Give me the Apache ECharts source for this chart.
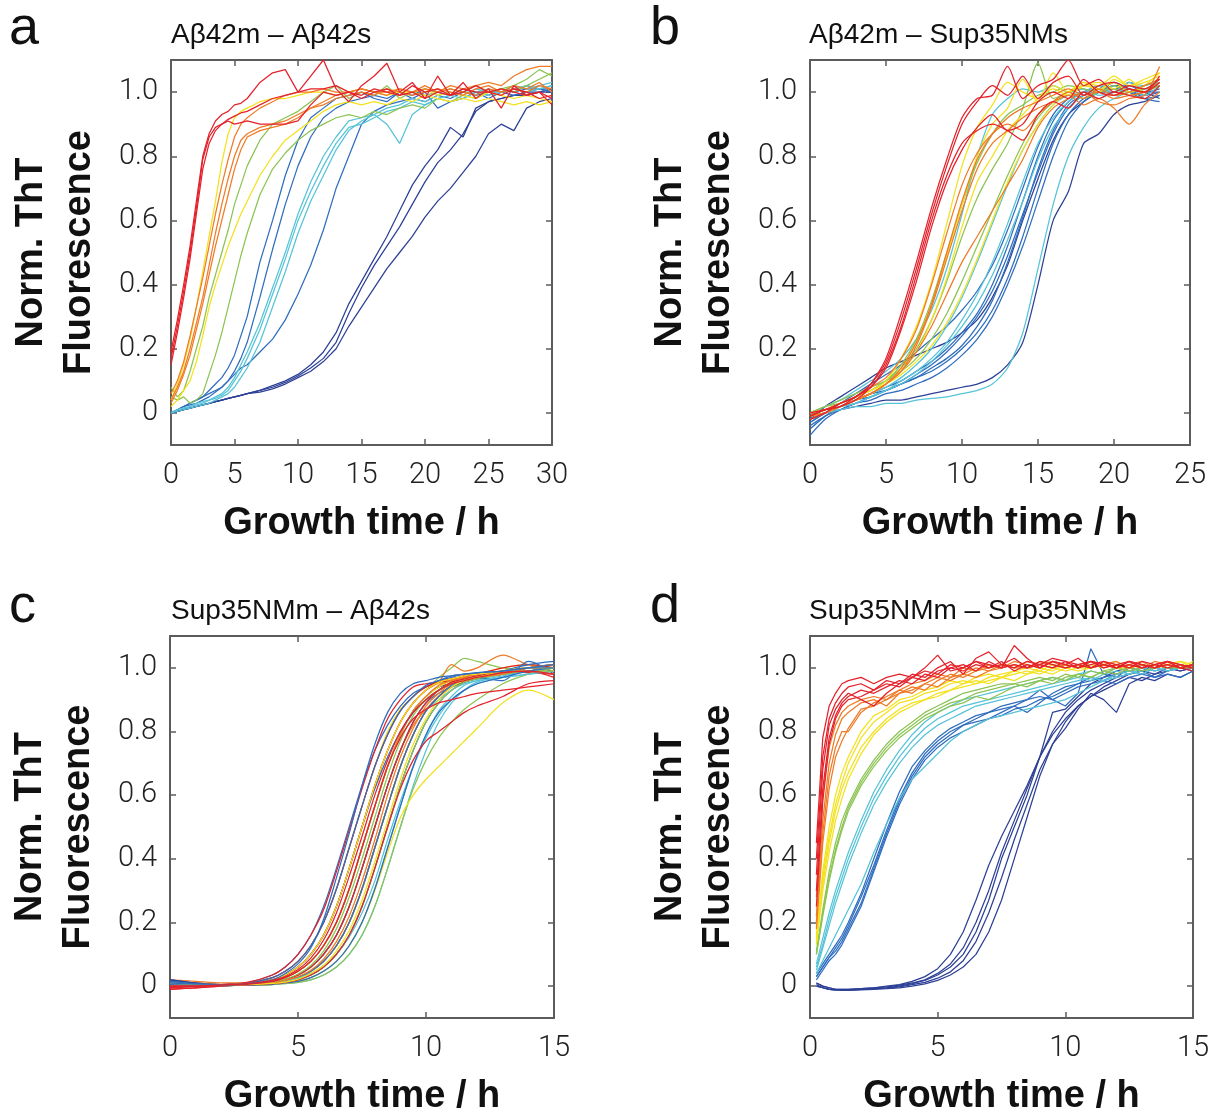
<!DOCTYPE html>
<html><head><meta charset="utf-8">
<script src="https://cdn.jsdelivr.net/npm/echarts@6/dist/echarts.min.js"></script>
<style>html,body{margin:0;padding:0;background:#fff}#c{width:1221px;height:1117px}</style>
</head><body><div id="c"></div>
<script>
// ---------- tick labels ----------
const yTicks = [0, 0.2, 0.4, 0.6, 0.8, 1.0];
const titles = ['Aβ42m – Aβ42s', 'Aβ42m – Sup35NMs', 'Sup35NMm – Aβ42s', 'Sup35NMm – Sup35NMs'];
const letters = ['a', 'b', 'c', 'd'];
const xMaxes = [30, 25, 15, 15];

// ---------- panel a ----------
const timeA = [0,0.5,1,1.5,2,2.5,3,3.5,4,4.5,5,5.5,6,7,8,9,10,11,12,13,14,15,16,17,18,19,20,21,22,23,24,25,26,27,28,29,30];
const aRed = [
 [0.17,0.27,0.38,0.5,0.64,0.79,0.86,0.89,0.9,0.91,0.9,0.905,0.91,0.9,0.9,0.9,0.91,0.96,1.0,0.99,1.0,0.98,1.0,1.01,0.99,1.0,0.98,1.0,0.99,1.01,1.0,1.0,1.01,1.0,0.99,1.0,0.98],
 [0.19,0.29,0.4,0.52,0.66,0.8,0.87,0.91,0.93,0.94,0.96,0.965,0.98,1.03,1.06,1.07,1.0,1.05,1.1,1.01,0.97,1.02,1.05,1.09,1.0,1.03,0.98,1.05,0.99,1.03,0.98,1.01,0.95,1.02,0.99,1.0,0.96],
 [0.15,0.25,0.36,0.48,0.62,0.76,0.84,0.88,0.9,0.915,0.925,0.935,0.94,0.96,0.98,0.99,1.0,1.01,1.01,1.02,1.0,0.99,1.01,1.0,0.99,1.02,1.0,1.01,0.99,1.0,1.02,1.0,0.99,1.01,1.0,0.98,0.99]
];
const aOrange = [
 [0.06,0.1,0.16,0.24,0.33,0.42,0.52,0.62,0.71,0.79,0.86,0.9,0.92,0.95,0.97,0.99,1.0,1.0,1.01,1.0,1.0,1.01,1.0,1.0,1.01,1.0,1.01,1.0,1.02,1.01,1.02,1.03,1.02,1.05,1.07,1.08,1.08],
 [0.04,0.08,0.13,0.2,0.28,0.36,0.46,0.56,0.65,0.73,0.8,0.85,0.87,0.89,0.9,0.91,0.93,0.95,0.96,0.98,0.99,1.0,0.99,1.01,1.0,0.99,1.0,1.01,1.0,0.99,1.01,1.02,1.0,1.01,1.0,1.02,1.01],
 [0.03,0.07,0.12,0.18,0.26,0.34,0.43,0.52,0.6,0.68,0.76,0.82,0.86,0.88,0.89,0.9,0.92,0.95,0.97,0.99,1.0,1.01,1.0,0.99,1.01,1.0,1.02,1.0,1.01,1.0,0.99,1.01,1.0,1.02,1.01,1.03,1.0]
];
const aYellow = [
 [0.04,0.09,0.15,0.23,0.33,0.44,0.55,0.66,0.78,0.87,0.92,0.94,0.95,0.97,0.98,0.98,0.99,1.0,1.0,0.99,1.0,1.01,1.0,0.99,1.0,1.0,1.01,0.99,1.0,0.99,0.98,1.0,0.99,0.98,0.99,0.98,0.97],
 [0.02,0.04,0.07,0.1,0.16,0.24,0.33,0.4,0.46,0.52,0.57,0.62,0.66,0.74,0.8,0.85,0.88,0.91,0.94,0.96,0.97,0.96,0.97,0.96,0.98,0.97,0.99,0.98,0.97,0.98,0.97,0.98,0.97,0.96,0.97,0.96,0.97]
];
const aGreen = [
 [0.08,0.05,0.07,0.13,0.2,0.27,0.36,0.43,0.5,0.57,0.65,0.71,0.77,0.85,0.9,0.92,0.94,0.97,1.0,1.02,0.98,1.0,0.99,1.02,0.98,1.0,0.99,1.0,1.01,1.0,1.02,1.0,1.01,1.02,1.04,1.07,1.05],
 [0.05,0.04,0.05,0.03,0.04,0.06,0.12,0.18,0.25,0.33,0.41,0.49,0.56,0.68,0.76,0.81,0.85,0.88,0.9,0.92,0.93,0.92,0.94,0.93,0.95,0.96,0.95,0.98,0.97,0.99,0.98,1.0,1.01,1.0,1.02,1.04,1.06]
];
const aCyan = [
 [0,0.01,0.015,0.02,0.03,0.035,0.04,0.05,0.06,0.08,0.11,0.15,0.19,0.28,0.39,0.5,0.62,0.72,0.8,0.86,0.91,0.92,0.93,0.9,0.84,0.93,0.96,0.98,0.99,1.0,1.0,1.01,1.0,1.02,1.01,1.02,1.03],
 [0,0.01,0.015,0.02,0.025,0.03,0.04,0.045,0.055,0.07,0.1,0.13,0.17,0.26,0.37,0.48,0.6,0.69,0.77,0.84,0.89,0.9,0.92,0.94,0.95,0.97,0.96,0.98,0.99,0.98,1.0,0.99,1.0,1.01,1.0,1.01,1.02],
 [0,0.005,0.01,0.015,0.02,0.025,0.03,0.04,0.05,0.06,0.08,0.11,0.14,0.22,0.33,0.44,0.56,0.66,0.74,0.82,0.88,0.91,0.93,0.95,0.96,0.98,0.97,0.99,1.0,0.99,1.01,1.0,1.0,1.01,1.02,1.01,1.02]
];
const aBlue = [
 [0,0.01,0.02,0.03,0.04,0.05,0.07,0.09,0.11,0.14,0.18,0.24,0.3,0.47,0.6,0.74,0.85,0.92,0.95,0.98,0.99,1.0,0.98,0.97,1.0,0.98,1.0,0.95,0.97,0.98,1.0,0.98,1.0,0.99,1.0,1.01,1.0],
 [0,0.01,0.02,0.025,0.03,0.04,0.05,0.065,0.08,0.1,0.13,0.17,0.22,0.36,0.51,0.65,0.77,0.86,0.92,0.95,0.97,0.98,0.99,0.98,1.0,0.99,1.01,1.0,0.99,1.01,1.0,0.99,1.01,1.0,1.02,1.01,1.0],
 [0,0.01,0.02,0.03,0.04,0.05,0.06,0.07,0.08,0.1,0.12,0.14,0.15,0.19,0.23,0.29,0.37,0.46,0.57,0.7,0.8,0.9,0.94,0.96,0.97,0.98,0.97,0.99,0.98,1.0,0.99,1.0,1.01,1.0,1.01,1.01,1.01]
];
const aDark = [
 [0,0.005,0.01,0.015,0.02,0.025,0.03,0.035,0.04,0.045,0.05,0.055,0.06,0.07,0.085,0.1,0.12,0.15,0.19,0.25,0.34,0.41,0.48,0.55,0.63,0.71,0.77,0.82,0.89,0.86,0.95,0.97,0.98,0.99,1.0,1.0,1.01],
 [0,0.005,0.01,0.015,0.02,0.025,0.03,0.035,0.04,0.045,0.05,0.055,0.06,0.07,0.08,0.095,0.115,0.14,0.17,0.22,0.31,0.39,0.46,0.52,0.58,0.65,0.72,0.78,0.82,0.87,0.94,0.97,0.98,0.99,0.99,1.0,1.0],
 [0,0.005,0.01,0.015,0.02,0.025,0.03,0.035,0.04,0.045,0.05,0.055,0.06,0.065,0.075,0.09,0.11,0.13,0.16,0.2,0.27,0.33,0.39,0.45,0.5,0.55,0.61,0.66,0.7,0.75,0.8,0.87,0.9,0.88,0.95,0.97,0.98]
];

// ---------- panel b ----------
const timeB = [0,1,2,3,4,5,6,7,8,9,10,11,12,13,14,15,16,17,18,19,20,21,22,23];
const bRed = [
 [-0.01,0.01,0.03,0.05,0.09,0.17,0.31,0.47,0.64,0.79,0.92,0.98,0.99,1.08,0.98,1.02,1.04,1.1,1.02,1.04,1.0,1.02,1.01,1.04],
 [-0.02,0.0,0.03,0.05,0.09,0.16,0.29,0.45,0.62,0.77,0.9,0.97,1.02,0.99,1.05,0.98,1.03,1.05,0.99,1.02,1.03,1.01,1.0,1.03],
 [-0.01,0.01,0.02,0.05,0.08,0.15,0.27,0.43,0.6,0.74,0.84,0.88,0.9,0.88,0.85,0.93,0.97,0.95,1.0,0.98,1.0,0.99,0.98,1.02],
 [0.0,0.01,0.02,0.04,0.08,0.14,0.26,0.41,0.58,0.72,0.82,0.89,0.93,0.88,0.9,0.97,1.0,0.98,1.04,1.0,0.99,1.01,1.0,1.05]
];
const bOrange = [
 [-0.02,0.0,0.02,0.04,0.06,0.09,0.13,0.21,0.33,0.48,0.63,0.76,0.84,0.88,0.92,0.95,0.97,0.99,0.96,0.98,0.95,0.9,0.96,1.0],
 [-0.01,0.01,0.02,0.04,0.06,0.09,0.14,0.22,0.34,0.5,0.66,0.79,0.87,0.92,0.95,0.97,0.99,1.01,0.99,1.0,0.98,0.99,1.0,1.03],
 [-0.01,0.0,0.02,0.04,0.06,0.09,0.13,0.19,0.27,0.37,0.47,0.55,0.63,0.71,0.79,0.89,0.95,0.98,1.0,0.97,0.96,0.98,0.99,1.08],
 [0.0,0.01,0.03,0.05,0.08,0.11,0.17,0.26,0.4,0.56,0.71,0.81,0.87,0.9,0.88,0.93,0.97,1.0,0.98,1.01,0.99,1.0,1.02,1.04]
];
const bYellow = [
 [-0.01,0.01,0.03,0.05,0.07,0.1,0.17,0.27,0.41,0.59,0.77,0.89,0.96,1.03,1.0,0.98,1.06,1.0,1.02,1.01,1.03,1.0,1.02,1.06],
 [0.0,0.01,0.02,0.04,0.06,0.09,0.14,0.22,0.34,0.49,0.65,0.8,0.9,0.95,1.04,0.97,1.02,1.0,1.03,1.0,1.04,1.02,1.03,1.05],
 [-0.01,0.0,0.02,0.04,0.06,0.09,0.13,0.19,0.29,0.42,0.58,0.72,0.8,0.88,0.93,0.98,1.01,0.99,1.02,1.03,1.01,1.04,1.0,1.03],
 [0.0,0.01,0.03,0.05,0.07,0.09,0.12,0.16,0.21,0.28,0.37,0.48,0.6,0.72,0.82,0.9,0.96,1.0,1.03,1.02,1.05,1.02,1.04,1.06]
];
const bGreen = [
 [0.0,0.02,0.03,0.05,0.07,0.1,0.15,0.23,0.35,0.5,0.65,0.78,0.87,0.93,0.96,0.99,1.0,1.02,1.01,1.0,1.02,1.0,1.01,1.03],
 [-0.01,0.01,0.03,0.05,0.07,0.1,0.14,0.2,0.29,0.41,0.55,0.67,0.76,0.84,0.95,1.09,0.98,1.0,1.02,1.01,0.99,1.0,1.02,1.04],
 [0.0,0.02,0.04,0.06,0.08,0.1,0.13,0.17,0.23,0.31,0.41,0.52,0.63,0.74,0.84,0.92,0.97,1.0,0.98,1.0,1.01,0.99,1.0,1.02]
];
const bCyan = [
 [0.0,0.02,0.04,0.07,0.1,0.13,0.17,0.23,0.32,0.45,0.62,0.8,0.93,0.98,1.01,1.0,1.02,1.0,1.01,0.99,1.0,1.02,1.01,1.03],
 [-0.02,0.0,0.02,0.04,0.06,0.08,0.11,0.15,0.2,0.27,0.36,0.47,0.59,0.71,0.82,0.9,0.96,0.99,1.0,0.98,1.0,1.01,0.99,1.02],
 [-0.01,0.0,0.02,0.03,0.05,0.07,0.1,0.13,0.17,0.22,0.29,0.37,0.47,0.59,0.72,0.84,0.92,0.97,1.0,1.02,1.01,1.0,1.02,1.03],
 [-0.01,0.0,0.01,0.02,0.02,0.03,0.03,0.04,0.045,0.05,0.06,0.07,0.09,0.14,0.25,0.45,0.65,0.8,0.89,0.95,0.98,1.0,1.01,1.02],
 [0.0,0.01,0.02,0.03,0.05,0.07,0.09,0.12,0.16,0.21,0.27,0.34,0.43,0.54,0.66,0.79,0.89,0.95,0.99,1.01,1.0,1.03,1.02,1.04]
];
const bBlue = [
 [-0.03,0.0,0.03,0.06,0.09,0.12,0.15,0.19,0.23,0.27,0.32,0.38,0.46,0.57,0.7,0.83,0.93,0.98,1.0,1.02,1.01,1.0,0.99,1.0],
 [-0.05,-0.01,0.02,0.04,0.06,0.08,0.1,0.13,0.16,0.2,0.25,0.31,0.4,0.52,0.66,0.8,0.91,0.97,1.0,1.01,1.03,1.0,0.98,0.99],
 [-0.07,-0.02,0.01,0.03,0.05,0.07,0.09,0.11,0.14,0.17,0.21,0.27,0.35,0.47,0.61,0.76,0.88,0.96,0.99,1.0,1.02,1.01,0.98,0.97],
 [-0.02,0.0,0.02,0.04,0.06,0.07,0.09,0.11,0.13,0.16,0.2,0.25,0.32,0.42,0.55,0.7,0.84,0.93,0.98,1.0,1.03,1.01,1.0,1.01],
 [-0.04,-0.01,0.01,0.03,0.04,0.06,0.07,0.09,0.11,0.14,0.18,0.23,0.3,0.4,0.52,0.66,0.8,0.91,0.97,1.0,1.02,1.02,1.0,1.0],
 [-0.03,0.0,0.02,0.04,0.05,0.07,0.09,0.12,0.15,0.19,0.24,0.3,0.38,0.49,0.62,0.75,0.87,0.95,0.99,1.0,1.0,1.03,1.01,1.02]
];
const bDark = [
 [-0.01,0.0,0.01,0.02,0.03,0.04,0.04,0.05,0.06,0.07,0.08,0.09,0.11,0.15,0.22,0.4,0.6,0.69,0.84,0.87,0.93,0.96,0.97,0.99],
 [-0.02,0.02,0.05,0.08,0.11,0.14,0.16,0.18,0.2,0.22,0.25,0.29,0.36,0.46,0.6,0.73,0.85,0.93,0.97,1.0,1.01,1.02,1.0,0.98]
];

// ---------- panel c ----------
const timeC = [0,1,2,3,4,4.5,5,5.5,6,6.5,7,7.5,8,8.5,9,9.5,10,10.5,11,11.5,12,13,14,15];
const cRed = [
 [-0.005,0.0,0.005,0.012,0.035,0.06,0.1,0.16,0.24,0.36,0.49,0.62,0.74,0.84,0.9,0.94,0.95,0.955,0.96,0.97,0.98,0.99,1.0,0.99],
 [-0.01,-0.005,0.0,0.008,0.027,0.047,0.078,0.127,0.2,0.305,0.435,0.565,0.69,0.79,0.865,0.91,0.94,0.955,0.965,0.975,0.98,1.0,1.01,1.0],
 [-0.005,0.0,0.005,0.008,0.02,0.035,0.06,0.1,0.16,0.25,0.37,0.5,0.63,0.74,0.83,0.89,0.93,0.955,0.965,0.975,0.98,0.99,0.985,0.98],
 [-0.01,-0.005,0.0,0.005,0.012,0.02,0.035,0.06,0.1,0.16,0.25,0.37,0.5,0.63,0.74,0.83,0.89,0.93,0.955,0.965,0.975,0.985,0.99,0.97],
 [0.0,0.0,0.002,0.004,0.008,0.012,0.02,0.035,0.06,0.1,0.16,0.25,0.37,0.5,0.62,0.71,0.77,0.8,0.83,0.86,0.88,0.91,0.95,0.96],
 [0.0,0.0,0.003,0.006,0.015,0.027,0.047,0.078,0.127,0.2,0.305,0.435,0.565,0.69,0.78,0.84,0.87,0.89,0.9,0.91,0.92,0.93,0.94,0.95],
 [0.0,0.0,0.004,0.008,0.018,0.03,0.052,0.088,0.145,0.23,0.345,0.47,0.6,0.71,0.8,0.86,0.9,0.93,0.95,0.96,0.97,0.985,0.99,0.98]
];
const cOrange = [
 [0.02,0.015,0.01,0.01,0.02,0.035,0.06,0.1,0.16,0.25,0.37,0.5,0.63,0.74,0.83,0.89,0.93,0.955,1.01,0.99,1.0,1.04,1.01,1.0],
 [0.01,0.01,0.005,0.006,0.015,0.027,0.047,0.078,0.127,0.2,0.305,0.435,0.565,0.69,0.79,0.865,0.91,0.945,0.96,0.97,0.98,0.99,1.0,1.01],
 [0.0,0.0,0.003,0.005,0.012,0.02,0.035,0.06,0.1,0.16,0.25,0.37,0.5,0.63,0.74,0.82,0.87,0.91,0.94,0.96,0.97,0.98,0.99,1.0],
 [0.01,0.005,0.003,0.004,0.01,0.015,0.027,0.047,0.078,0.127,0.2,0.305,0.435,0.565,0.69,0.79,0.865,0.91,0.945,0.96,0.97,0.985,0.99,0.98],
 [0.005,0.003,0.003,0.005,0.01,0.018,0.03,0.05,0.085,0.14,0.22,0.33,0.46,0.6,0.72,0.81,0.88,0.92,0.95,0.96,0.97,0.98,1.0,1.01]
];
const cYellow = [
 [0.0,0.005,0.005,0.01,0.027,0.047,0.078,0.127,0.2,0.305,0.435,0.565,0.69,0.8,0.87,0.91,0.94,0.95,0.96,0.97,0.97,0.98,0.99,1.0],
 [0.0,0.0,0.003,0.006,0.015,0.027,0.047,0.078,0.127,0.2,0.305,0.435,0.565,0.69,0.79,0.865,0.91,0.94,0.96,0.97,0.98,1.0,1.01,1.0],
 [0.0,0.0,0.002,0.004,0.01,0.015,0.027,0.047,0.078,0.127,0.2,0.305,0.435,0.565,0.69,0.79,0.865,0.91,0.945,0.96,0.97,0.98,0.99,0.99],
 [0.0,0.0,0.002,0.003,0.006,0.01,0.015,0.027,0.047,0.078,0.127,0.2,0.3,0.42,0.53,0.6,0.65,0.69,0.73,0.77,0.81,0.89,0.93,0.9],
 [0.0,0.0,0.004,0.008,0.02,0.035,0.06,0.1,0.16,0.25,0.37,0.5,0.63,0.74,0.83,0.89,0.93,0.955,0.965,0.975,0.98,0.99,1.0,1.0],
 [0.005,0.003,0.003,0.005,0.009,0.013,0.022,0.04,0.065,0.11,0.175,0.27,0.39,0.52,0.65,0.76,0.84,0.9,0.94,0.96,0.97,0.99,1.0,1.0]
];
const cGreen = [
 [0.01,0.005,0.005,0.008,0.02,0.035,0.06,0.1,0.16,0.25,0.37,0.5,0.63,0.74,0.83,0.89,0.93,0.97,1.0,1.03,1.02,1.0,0.99,0.98],
 [0.005,0.005,0.003,0.005,0.012,0.02,0.035,0.06,0.1,0.16,0.25,0.37,0.5,0.63,0.74,0.83,0.89,0.93,0.955,0.965,0.975,0.99,1.0,1.01],
 [0.005,0.003,0.002,0.004,0.008,0.012,0.02,0.035,0.06,0.1,0.16,0.25,0.37,0.5,0.63,0.74,0.83,0.89,0.93,0.955,0.965,0.98,0.99,1.0],
 [0.005,0.003,0.002,0.003,0.005,0.008,0.012,0.02,0.035,0.06,0.1,0.16,0.25,0.37,0.5,0.62,0.71,0.78,0.83,0.87,0.9,0.95,0.98,1.0],
 [0.01,0.005,0.003,0.005,0.012,0.022,0.038,0.065,0.11,0.18,0.28,0.4,0.53,0.66,0.77,0.85,0.9,0.93,0.95,0.96,0.97,0.98,0.99,0.99]
];
const cCyan = [
 [0.005,0.005,0.005,0.006,0.015,0.027,0.047,0.078,0.127,0.2,0.305,0.435,0.565,0.69,0.79,0.86,0.9,0.93,0.95,0.96,0.97,0.98,0.99,1.0],
 [0.005,0.003,0.002,0.004,0.01,0.015,0.027,0.047,0.078,0.127,0.2,0.305,0.435,0.565,0.69,0.79,0.865,0.9,0.93,0.95,0.96,0.97,0.98,0.99],
 [0.005,0.003,0.002,0.003,0.006,0.01,0.015,0.027,0.047,0.078,0.127,0.2,0.305,0.435,0.565,0.69,0.79,0.865,0.91,0.945,0.96,0.98,0.99,1.0],
 [0.0,0.0,0.002,0.003,0.005,0.008,0.012,0.02,0.035,0.06,0.1,0.16,0.25,0.37,0.5,0.63,0.74,0.83,0.89,0.93,0.955,0.975,0.99,1.0],
 [0.005,0.003,0.003,0.005,0.01,0.015,0.025,0.04,0.065,0.1,0.155,0.23,0.33,0.46,0.58,0.69,0.78,0.85,0.9,0.93,0.95,0.97,0.98,0.99]
];
const cBlue = [
 [0.02,0.01,0.005,0.01,0.035,0.06,0.1,0.16,0.25,0.37,0.5,0.63,0.74,0.82,0.88,0.92,0.94,0.96,0.97,0.98,0.98,0.99,1.0,1.01],
 [0.0,0.0,0.005,0.008,0.02,0.035,0.06,0.1,0.16,0.25,0.37,0.5,0.62,0.72,0.8,0.86,0.9,0.93,0.95,0.96,0.97,0.98,0.99,1.0],
 [0.01,0.005,0.003,0.005,0.012,0.02,0.035,0.06,0.1,0.16,0.25,0.37,0.5,0.63,0.74,0.83,0.89,0.92,0.94,0.96,0.97,0.96,1.02,0.98],
 [0.01,0.005,0.003,0.004,0.01,0.015,0.027,0.047,0.078,0.127,0.2,0.305,0.435,0.565,0.69,0.79,0.865,0.91,0.945,0.96,0.97,0.99,1.01,1.02],
 [0.01,0.005,0.002,0.003,0.006,0.01,0.015,0.027,0.047,0.078,0.127,0.2,0.305,0.435,0.565,0.69,0.79,0.86,0.9,0.93,0.95,0.97,0.99,1.0],
 [0.005,0.003,0.003,0.008,0.027,0.047,0.078,0.127,0.2,0.305,0.435,0.565,0.69,0.79,0.865,0.91,0.945,0.96,0.975,0.98,0.985,0.99,1.0,1.01],
 [0.015,0.008,0.004,0.008,0.02,0.04,0.07,0.12,0.21,0.34,0.48,0.63,0.76,0.86,0.92,0.95,0.96,0.97,0.975,0.98,0.985,0.99,1.0,1.0]
];
const cDark = [
 [0.02,0.01,0.005,0.006,0.015,0.027,0.047,0.078,0.127,0.2,0.305,0.435,0.565,0.69,0.79,0.865,0.91,0.94,0.95,0.96,0.97,0.98,1.0,1.01],
 [0.015,0.008,0.004,0.004,0.008,0.012,0.02,0.035,0.06,0.1,0.16,0.25,0.37,0.5,0.63,0.74,0.83,0.89,0.93,0.955,0.97,0.98,0.99,1.0],
 [0.02,0.01,0.004,0.004,0.01,0.015,0.027,0.047,0.078,0.127,0.2,0.305,0.435,0.565,0.69,0.79,0.865,0.91,0.94,0.955,0.965,0.98,0.99,1.0]
];

// ---------- panel d ----------
const timeD = [0.25,0.5,0.75,1,1.25,1.5,2,2.5,3,3.5,4,4.5,5,5.5,6,6.5,7,7.5,8,8.5,9,9.5,10,10.5,11,11.5,12,12.5,13,13.5,14,14.5,15];
const dRed = [
 [0.45,0.78,0.88,0.92,0.95,0.96,0.97,0.95,0.97,0.98,0.97,1.0,1.04,0.99,1.0,1.02,1.01,1.0,1.07,1.03,1.0,1.02,1.01,1.03,1.0,1.02,1.01,1.02,1.0,1.01,1.02,1.0,1.01],
 [0.4,0.72,0.84,0.89,0.92,0.94,0.95,0.93,0.96,0.95,0.98,0.97,1.0,1.02,0.98,1.03,1.05,1.01,1.0,1.02,1.01,1.03,1.02,1.0,1.02,1.01,1.0,1.02,1.01,1.0,1.02,1.01,1.0],
 [0.35,0.68,0.82,0.87,0.9,0.92,0.9,0.88,0.92,0.95,0.97,0.96,0.99,1.0,1.01,0.99,1.02,1.0,1.01,1.0,1.02,1.01,1.0,1.01,1.02,1.0,1.01,1.0,1.02,1.01,1.0,1.01,1.0],
 [0.3,0.62,0.78,0.85,0.89,0.91,0.93,0.92,0.94,0.96,0.95,0.98,0.97,1.0,0.99,1.01,1.0,1.02,0.99,1.01,1.0,1.02,1.01,1.0,1.01,1.02,1.0,1.01,1.0,1.01,1.02,1.0,0.99],
 [0.25,0.58,0.76,0.84,0.88,0.9,0.91,0.93,0.95,0.94,0.97,0.99,0.98,1.01,1.0,1.02,1.0,1.01,1.03,1.0,1.01,1.0,1.02,1.01,1.0,1.01,1.0,1.02,1.01,1.0,1.01,1.0,1.01]
];
const dOrange = [
 [0.28,0.6,0.75,0.82,0.86,0.88,0.9,0.91,0.9,0.93,0.95,0.96,0.98,0.97,1.0,0.99,1.01,1.0,1.02,1.01,1.0,1.02,1.01,1.0,1.02,1.01,1.0,1.01,1.02,1.0,1.01,1.0,1.0],
 [0.22,0.52,0.7,0.79,0.84,0.86,0.89,0.9,0.88,0.92,0.94,0.93,0.96,0.98,0.97,0.99,1.0,1.01,1.0,1.02,1.01,1.0,1.01,1.0,1.02,1.01,1.0,1.01,1.0,1.02,1.01,1.0,1.01],
 [0.2,0.48,0.66,0.75,0.8,0.8,0.86,0.89,0.91,0.93,0.92,0.95,0.97,0.96,0.98,1.0,0.99,1.01,1.0,1.0,1.01,1.02,1.0,1.01,1.0,1.01,1.02,1.0,1.01,1.0,1.01,1.0,1.01],
 [0.18,0.45,0.62,0.72,0.77,0.81,0.87,0.88,0.9,0.92,0.93,0.95,0.94,0.97,0.98,0.97,0.99,1.0,1.01,1.0,1.02,1.01,1.0,1.01,1.02,1.0,1.01,1.0,1.01,1.0,1.02,1.01,1.0]
];
const dYellow = [
 [0.16,0.36,0.5,0.6,0.67,0.72,0.8,0.85,0.87,0.9,0.91,0.93,0.94,0.96,0.95,0.97,0.98,0.97,0.99,1.0,0.99,1.01,1.0,1.01,1.0,1.01,1.02,1.0,1.01,1.0,1.01,1.02,1.01],
 [0.15,0.34,0.47,0.57,0.64,0.7,0.78,0.83,0.86,0.89,0.9,0.92,0.93,0.95,0.96,0.95,0.97,0.98,0.99,0.98,1.0,0.99,1.01,1.0,1.0,1.01,1.0,1.01,1.0,1.01,1.0,1.01,1.0],
 [0.14,0.32,0.45,0.55,0.62,0.67,0.75,0.8,0.84,0.87,0.89,0.9,0.92,0.93,0.95,0.96,0.95,0.97,0.98,0.99,0.98,1.0,0.99,1.0,1.01,1.0,1.01,1.0,1.01,1.0,1.01,1.02,1.0],
 [0.13,0.3,0.42,0.52,0.59,0.65,0.73,0.79,0.83,0.86,0.88,0.9,0.91,0.93,0.94,0.95,0.96,0.97,0.96,0.98,0.99,0.98,1.0,0.99,1.0,1.01,1.0,1.0,1.01,1.0,1.01,1.0,1.02]
];
const dGreen = [
 [0.11,0.24,0.36,0.45,0.52,0.57,0.65,0.71,0.76,0.8,0.83,0.86,0.88,0.9,0.92,0.93,0.94,0.95,0.95,0.96,0.97,0.96,0.98,0.97,0.99,0.98,1.0,0.99,1.0,1.01,1.0,1.01,1.0],
 [0.1,0.23,0.34,0.43,0.5,0.56,0.64,0.7,0.75,0.79,0.82,0.85,0.87,0.89,0.9,0.92,0.93,0.94,0.95,0.94,0.96,0.97,0.96,0.98,0.97,0.99,0.98,1.0,0.99,1.0,1.01,1.0,1.01],
 [0.1,0.22,0.33,0.42,0.49,0.55,0.63,0.69,0.74,0.78,0.81,0.84,0.86,0.88,0.89,0.91,0.9,0.92,0.94,0.95,0.96,0.95,0.97,0.98,0.97,0.99,1.0,0.99,1.0,1.01,1.0,1.0,1.01]
];
const dCyan = [
 [0.07,0.15,0.23,0.3,0.36,0.42,0.52,0.61,0.68,0.74,0.79,0.83,0.86,0.88,0.9,0.91,0.92,0.93,0.94,0.95,0.96,0.97,0.96,0.98,0.99,0.98,1.0,0.99,1.0,1.01,1.0,1.0,1.01],
 [0.06,0.13,0.21,0.28,0.34,0.4,0.5,0.59,0.66,0.72,0.77,0.81,0.84,0.86,0.88,0.89,0.9,0.91,0.92,0.93,0.94,0.95,0.96,0.97,0.96,0.98,0.99,0.98,1.0,0.99,1.0,1.01,1.0],
 [0.05,0.12,0.19,0.26,0.32,0.38,0.48,0.57,0.64,0.7,0.75,0.79,0.82,0.84,0.86,0.88,0.89,0.9,0.91,0.92,0.93,0.94,0.95,0.96,0.97,0.96,0.98,0.99,0.98,1.0,0.99,1.0,1.0],
 [0.04,0.08,0.12,0.16,0.2,0.24,0.32,0.42,0.51,0.59,0.65,0.69,0.73,0.77,0.8,0.82,0.84,0.85,0.86,0.87,0.88,0.89,0.9,0.92,0.94,0.96,0.97,0.98,0.99,1.0,0.99,1.0,1.01]
];
const dBlue = [
 [0.04,0.07,0.1,0.13,0.16,0.2,0.29,0.4,0.51,0.61,0.69,0.74,0.78,0.81,0.83,0.85,0.86,0.88,0.89,0.9,0.91,0.9,0.92,0.94,0.95,0.96,0.95,0.97,0.98,0.97,0.99,1.0,1.0],
 [0.03,0.06,0.09,0.12,0.15,0.19,0.28,0.38,0.49,0.59,0.67,0.73,0.77,0.8,0.82,0.84,0.86,0.87,0.88,0.86,0.89,0.92,0.94,0.95,0.97,0.96,0.98,0.99,0.98,1.0,0.99,1.0,0.99],
 [0.03,0.06,0.09,0.11,0.14,0.18,0.26,0.37,0.48,0.58,0.66,0.72,0.76,0.79,0.82,0.83,0.84,0.86,0.88,0.9,0.93,0.9,0.88,0.92,1.06,0.98,0.97,1.0,0.99,0.97,0.98,0.97,0.99],
 [0.02,0.05,0.08,0.1,0.13,0.17,0.25,0.36,0.47,0.57,0.65,0.71,0.75,0.78,0.8,0.82,0.84,0.85,0.87,0.88,0.9,0.91,0.93,0.95,0.96,0.97,0.98,0.99,1.0,0.99,1.0,1.0,1.01]
];
const dDark = [
 [0.01,0.0,-0.005,-0.01,-0.01,-0.01,-0.008,-0.005,0.0,0.005,0.015,0.03,0.055,0.1,0.17,0.27,0.38,0.47,0.55,0.63,0.72,0.8,0.86,0.9,0.93,0.95,0.97,0.98,0.99,1.0,0.99,1.0,1.0],
 [0.01,0.0,-0.005,-0.01,-0.01,-0.01,-0.008,-0.005,-0.002,0.003,0.01,0.02,0.04,0.07,0.12,0.2,0.3,0.42,0.52,0.62,0.72,0.79,0.84,0.88,0.91,0.94,0.96,0.98,0.99,0.98,1.0,0.99,1.0],
 [0.005,-0.005,-0.01,-0.012,-0.012,-0.012,-0.01,-0.008,-0.005,0.0,0.008,0.018,0.035,0.06,0.1,0.17,0.27,0.4,0.5,0.6,0.72,0.86,0.87,0.91,0.95,0.97,0.99,1.0,0.99,1.01,1.0,0.99,1.0],
 [0.0,-0.005,-0.01,-0.012,-0.012,-0.012,-0.01,-0.008,-0.006,-0.002,0.005,0.012,0.025,0.045,0.08,0.14,0.23,0.34,0.46,0.57,0.68,0.76,0.81,0.87,0.92,0.9,0.86,0.95,0.97,0.96,0.98,0.97,0.99],
 [0.0,-0.005,-0.01,-0.012,-0.013,-0.013,-0.012,-0.01,-0.008,-0.005,0.0,0.007,0.018,0.035,0.06,0.1,0.17,0.27,0.4,0.53,0.66,0.76,0.83,0.88,0.91,0.93,0.95,0.97,0.96,0.98,0.99,1.0,1.0]
];

// ---------- styling / layout ----------
const COLORS = {red:'#e4222b', orange:'#ef7b27', yellow:'#f3e11d', green:'#8cc453', cyan:'#56c3d7', blue:'#2f6dbf', dark:'#2d4096'};
const panelGroups = [
  {time: timeA, groups: [['dark',aDark],['blue',aBlue],['cyan',aCyan],['green',aGreen],['yellow',aYellow],['orange',aOrange],['red',aRed]], smooth: false, mix: false},
  {time: timeB, groups: [['dark',bDark],['blue',bBlue],['cyan',bCyan],['green',bGreen],['yellow',bYellow],['orange',bOrange],['red',bRed]], smooth: 0.25, mix: false},
  {time: timeC, groups: [['dark',cDark],['cyan',cCyan],['green',cGreen],['yellow',cYellow],['orange',cOrange],['blue',cBlue],['red',cRed]], smooth: 0.3, mix: true},
  {time: timeD, groups: [['dark',dDark],['blue',dBlue],['cyan',dCyan],['green',dGreen],['yellow',dYellow],['orange',dOrange],['red',dRed]], smooth: false, mix: false}
];
const gridBoxes = [
  {left:171, top:60, width:381, height:385},
  {left:810, top:60, width:380, height:385},
  {left:170, top:636, width:384, height:384},
  {left:810, top:636, width:383, height:384}
];
const titlePos = [{l:171,t:21,ll:9,lt:2},{l:809,t:21,ll:650,lt:2},{l:171,t:597,ll:9,lt:580},{l:809,t:597,ll:650,lt:580}];

const frame = {color:'#5c5c5c', width:2};
const tickStyle = {color:'#5c5c5c', width:1.5};
const labelFont = {fontFamily:'Roboto', fontWeight:300, fontSize:29, color:'#222'};
const nameFont = {fontFamily:'Liberation Sans', fontWeight:'bold', fontSize:38, color:'#111'};

const grid = [], xAxis = [], yAxis = [], series = [], title = [];
gridBoxes.forEach((g, i) => {
  grid.push(Object.assign({containLabel:false}, g));
  xAxis.push({gridIndex:i, type:'value', min:0, max:xMaxes[i], interval:5, position:'bottom',
    axisLine:{show:true, onZero:false, lineStyle:frame},
    axisTick:{show:true, inside:true, length:6, lineStyle:tickStyle},
    axisLabel:Object.assign({margin:16}, labelFont),
    splitLine:{show:false},
    name:'Growth time / h', nameLocation:'middle', nameGap:60, nameTextStyle:nameFont});
  xAxis.push({gridIndex:i, type:'value', min:0, max:xMaxes[i], interval:5, position:'top',
    axisLine:{show:true, onZero:false, lineStyle:frame},
    axisTick:{show:true, inside:true, length:6, lineStyle:tickStyle},
    axisLabel:{show:false}, splitLine:{show:false}});
  yAxis.push({gridIndex:i, type:'value', min:-0.1, max:1.1, position:'left',
    axisLine:{show:true, onZero:false, lineStyle:frame},
    axisTick:{show:true, inside:true, length:6, lineStyle:tickStyle, customValues:yTicks},
    axisLabel:Object.assign({margin:13, customValues:yTicks, formatter:v => v === 0 ? '0' : v.toFixed(1)}, labelFont),
    splitLine:{show:false},
    name:'Norm. ThT\nFluorescence', nameLocation:'middle', nameRotate:90, nameGap:67,
    nameTextStyle:Object.assign({lineHeight:48}, nameFont)});
  yAxis.push({gridIndex:i, type:'value', min:-0.1, max:1.1, position:'right',
    axisLine:{show:true, onZero:false, lineStyle:frame},
    axisTick:{show:true, inside:true, length:6, lineStyle:tickStyle, customValues:yTicks},
    axisLabel:{show:false}, splitLine:{show:false}});

  const p = panelGroups[i];
  let ordered = [];
  if (p.mix) {
    const maxLen = Math.max(...p.groups.map(g => g[1].length));
    for (let j = 0; j < maxLen; j++) p.groups.forEach(([key, curves]) => { if (curves[j]) ordered.push([key, curves[j]]); });
  } else {
    p.groups.forEach(([key, curves]) => curves.forEach(c => ordered.push([key, c])));
  }
  ordered.forEach(([key, vals]) => {
    series.push({type:'line', xAxisIndex:2*i, yAxisIndex:2*i, showSymbol:false, silent:true,
      smooth:p.smooth, clip:true,
      lineStyle:{color:COLORS[key], width:1.25},
      data: vals.map((v, k) => [p.time[k], v])});
  });

  const tp = titlePos[i];
  title.push({text:titles[i], left:tp.l, top:tp.t, padding:0,
    textStyle:{fontFamily:'Liberation Sans', fontWeight:'normal', fontSize:28, color:'#111'}});
  title.push({text:letters[i], left:tp.ll, top:tp.lt, padding:0,
    textStyle:{fontFamily:'Liberation Sans', fontWeight:'normal', fontSize:54, color:'#111'}});
});

const chart = echarts.init(document.getElementById('c'), null, {renderer:'canvas'});
chart.setOption({animation:false, backgroundColor:'#fff', title, grid, xAxis, yAxis, series});
</script>
</body></html>
